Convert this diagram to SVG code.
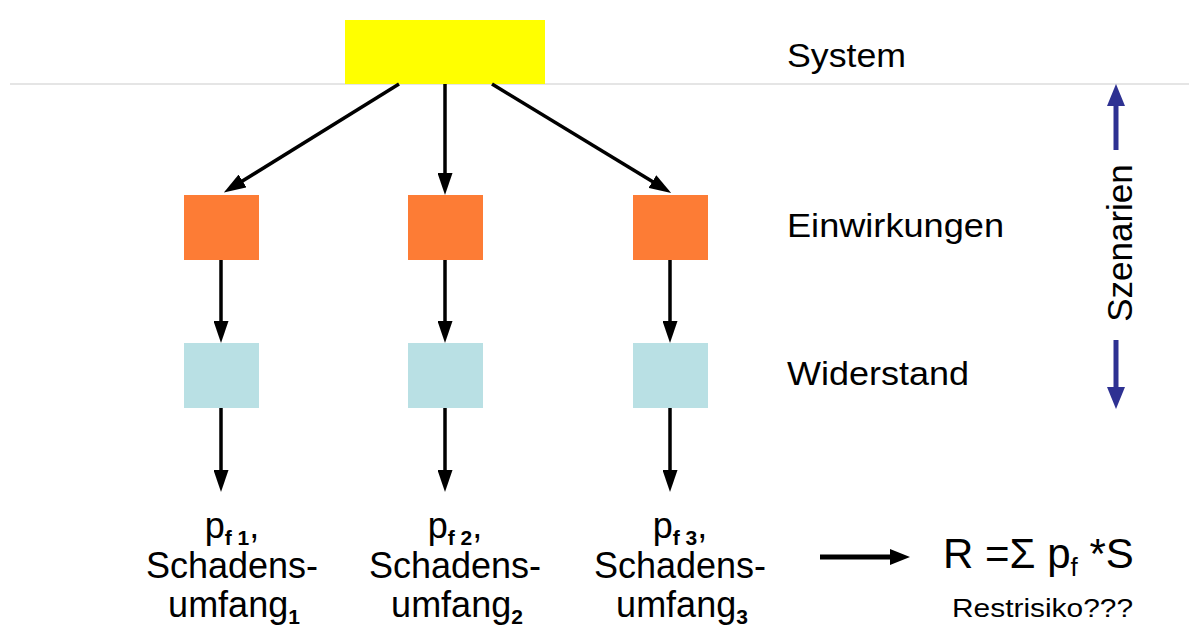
<svg xmlns="http://www.w3.org/2000/svg" width="1189" height="632" viewBox="0 0 1189 632">
<defs>
<style>
text{font-family:"Liberation Sans",Arial,sans-serif;fill:#000}
.lbl{font-size:34px}
.bt{font-size:36px;text-anchor:middle}
.sub{font-size:21px;font-weight:bold}
.conn{stroke:#000;stroke-width:3.5;fill:none;marker-end:url(#ah)}
.blue{stroke:#2e3192;stroke-width:5;fill:none}
</style>
<marker id="ah" markerUnits="userSpaceOnUse" markerWidth="22" markerHeight="15" refX="13" refY="7.5" orient="auto">
<path d="M0,0 L22,7.5 L0,15 z" fill="#000"/>
</marker>
<marker id="ahb" markerUnits="userSpaceOnUse" markerWidth="22" markerHeight="18" refX="14" refY="9" orient="auto">
<path d="M0,0 L22,9 L0,18 z" fill="#2e3192"/>
</marker>
<marker id="ahk" markerUnits="userSpaceOnUse" markerWidth="20" markerHeight="16" refX="12" refY="8" orient="auto">
<path d="M0,0 L20,8 L0,16 z" fill="#000"/>
</marker>
</defs>
<rect width="1189" height="632" fill="#fff"/>
<line x1="10" y1="84" x2="1189" y2="84" stroke="#dcdcdc" stroke-width="1.5"/>

<g id="system"><rect x="345" y="20" width="200" height="64" fill="#ffff00"/></g>
<g id="einw1"><rect x="184" y="195" width="75" height="65" fill="#fd7c35"/></g>
<g id="einw2"><rect x="408" y="195" width="75" height="65" fill="#fd7c35"/></g>
<g id="einw3"><rect x="633" y="195" width="75" height="65" fill="#fd7c35"/></g>
<g id="wid1"><rect x="184" y="343" width="75" height="65" fill="#b9e0e4"/></g>
<g id="wid2"><rect x="408" y="343" width="75" height="65" fill="#b9e0e4"/></g>
<g id="wid3"><rect x="633" y="343" width="75" height="65" fill="#b9e0e4"/></g>

<g id="connectors">
<line class="conn" x1="399" y1="84" x2="231.5" y2="187.8"/>
<line class="conn" x1="445" y1="84" x2="445" y2="186"/>
<line class="conn" x1="492" y1="84" x2="663.5" y2="188.3"/>
<line class="conn" x1="221" y1="260" x2="221" y2="334"/>
<line class="conn" x1="445" y1="260" x2="445" y2="334"/>
<line class="conn" x1="670" y1="260" x2="670" y2="334"/>
<line class="conn" x1="221" y1="408" x2="221" y2="483"/>
<line class="conn" x1="445" y1="408" x2="445" y2="483"/>
<line class="conn" x1="670" y1="408" x2="670" y2="483"/>
<line x1="820" y1="557" x2="902" y2="557" stroke="#000" stroke-width="5" marker-end="url(#ahk)"/>
<line class="blue" x1="1116" y1="150" x2="1116" y2="92" marker-end="url(#ahb)"/>
<line class="blue" x1="1116" y1="340" x2="1116" y2="401" marker-end="url(#ahb)"/>
</g>

<g id="labels">
<text class="lbl" x="787" y="67" textLength="119" lengthAdjust="spacingAndGlyphs">System</text>
<text class="lbl" x="787" y="237" textLength="217" lengthAdjust="spacingAndGlyphs">Einwirkungen</text>
<text class="lbl" x="787" y="385" textLength="182" lengthAdjust="spacingAndGlyphs">Widerstand</text>
<text x="1119" y="256" font-size="35" text-anchor="middle" transform="rotate(-90 1119 243)">Szenarien</text>
</g>

<g id="out1">
<text class="bt" x="232" y="538">p<tspan class="sub" dy="7">f 1</tspan><tspan dy="-7">,</tspan></text>
<text class="bt" x="232" y="578">Schadens-</text>
<text class="bt" x="234" y="617">umfang<tspan class="sub" dy="7">1</tspan></text>
</g>
<g id="out2">
<text class="bt" x="455" y="538">p<tspan class="sub" dy="7">f 2</tspan><tspan dy="-7">,</tspan></text>
<text class="bt" x="455" y="578">Schadens-</text>
<text class="bt" x="457" y="617">umfang<tspan class="sub" dy="7">2</tspan></text>
</g>
<g id="out3">
<text class="bt" x="680" y="538">p<tspan class="sub" dy="7">f 3</tspan><tspan dy="-7">,</tspan></text>
<text class="bt" x="680" y="578">Schadens-</text>
<text class="bt" x="682" y="617">umfang<tspan class="sub" dy="7">3</tspan></text>
</g>

<g id="formula">
<text x="943" y="568" font-size="42">R =Σ p<tspan font-size="26" dy="8">f</tspan><tspan dy="-8"> *S</tspan></text>
<text x="952" y="617" font-size="25" textLength="181" lengthAdjust="spacingAndGlyphs">Restrisiko???</text>
</g>
</svg>
